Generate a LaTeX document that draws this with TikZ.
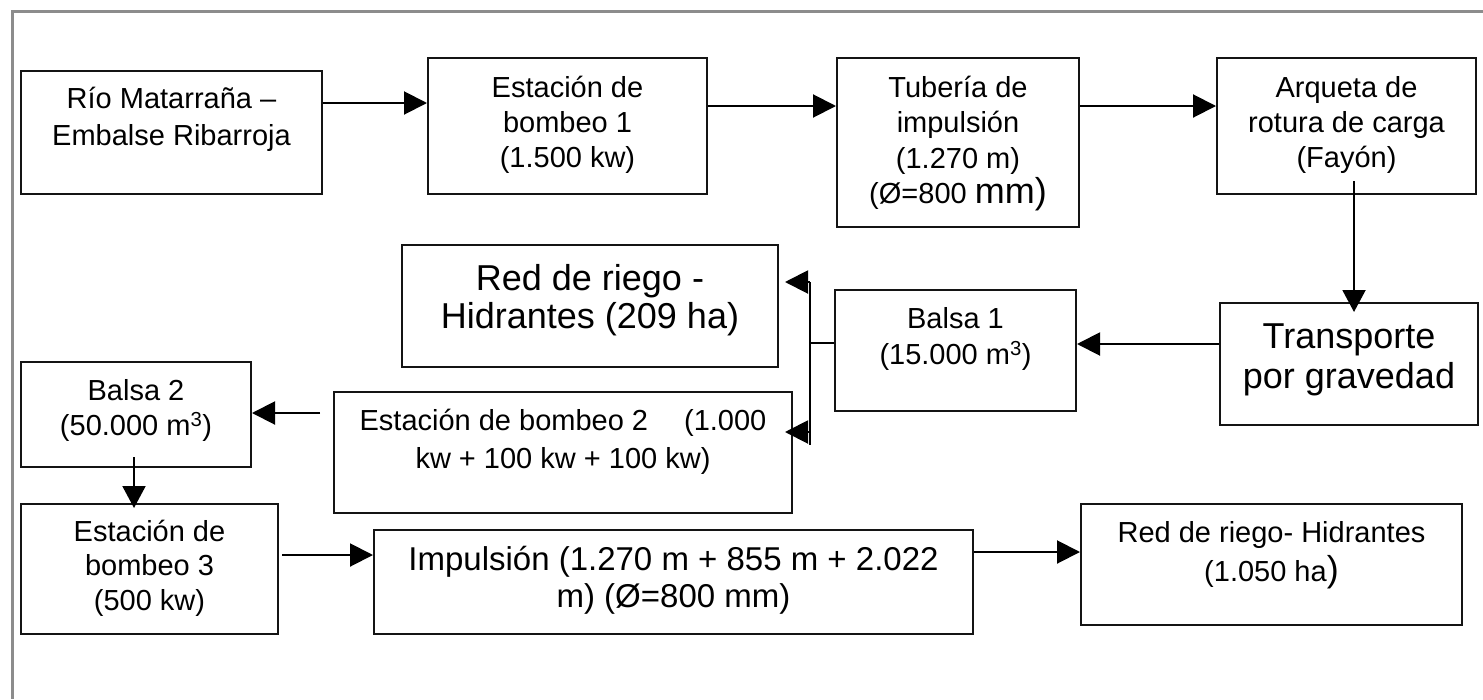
\documentclass[tikz,border=0pt]{standalone}
\usepackage{fontspec}
\setmainfont{Liberation Sans}
\usetikzlibrary{arrows.meta,calc}
\newcommand\fsnorm[1]{\fontsize{29}{#1}\selectfont}
\newcommand\fsbig[1]{\fontsize{36}{#1}\selectfont}
\newcommand\fsimp[1]{\fontsize{33}{#1}\selectfont}
\newcommand\tstrut{\rule{0pt}{34pt}}
\newcommand\bigpart[1]{{\fontsize{36}{36}\selectfont #1}}
\begin{document}
\begin{tikzpicture}[x=1pt,y=-1pt,
  box/.style={draw=black!92,line width=2pt,inner sep=0pt,fill=none},
  txt/.style={anchor=north,inner sep=0pt,align=center,text=black},
  arr/.style={line width=2pt,draw=black,-{Triangle[length=23pt,width=23pt]}},
  varr/.style={line width=2pt,draw=black,-{Triangle[length=22pt,width=23pt]}},
  plain/.style={line width=2pt,draw=black},
  frame/.style={line width=3pt,draw={rgb,255:red,140;green,140;blue,140}}]
\useasboundingbox (0,0) rectangle (1483,699);
\fill[white] (0,0) rectangle (1483,699);
\draw[frame] (1483,11) -- (12,11) -- (12,699);

% boxes
\node[box,minimum width=301pt,minimum height=123pt] (rio) at (171.5,132.5) {};
\node[box,minimum width=279pt,minimum height=136pt] (bomb1) at (567.5,126) {};
\node[box,minimum width=242pt,minimum height=169pt] (tub) at (958,142.5) {};
\node[box,minimum width=259pt,minimum height=136pt] (arq) at (1346.5,126) {};
\node[box,minimum width=258pt,minimum height=122pt] (transp) at (1349,364) {};
\node[box,minimum width=241pt,minimum height=121pt] (balsa1) at (955.5,350.5) {};
\node[box,minimum width=376pt,minimum height=122pt] (red209) at (590,306) {};
\node[box,minimum width=458pt,minimum height=121pt] (bomb2) at (563,452.5) {};
\node[box,minimum width=230pt,minimum height=105pt] (balsa2) at (136,414.5) {};
\node[box,minimum width=257pt,minimum height=130pt] (bomb3) at (149.5,569) {};
\node[box,minimum width=599pt,minimum height=104pt] (imp) at (673.5,582) {};
\node[box,minimum width=381pt,minimum height=121pt] (red1050) at (1271.5,564.5) {};

% texts
\node[txt,font=\fsnorm{37}] (rio-t) at (171.5,74) {\tstrut Río Matarraña –\\Embalse Ribarroja};
\node[txt,font=\fsnorm{35}] (bomb1-t) at (567.5,63) {\tstrut Estación de\\bombeo 1\\(1.500 kw)};
\node[txt,font=\fsnorm{35.5}] (tub-t) at (958,63) {\tstrut Tubería de\\impulsión\\(1.270 m)\\(Ø=800 \bigpart{mm)}};
\node[txt,font=\fsnorm{35}] (arq-t) at (1346.5,63) {\tstrut Arqueta de\\rotura de carga\\(Fayón)};
\node[txt,font=\fsbig{38}] (red209-t) at (590,256) {\tstrut Red de riego -\\Hidrantes (209 ha)};
\node[txt,font=\fsnorm{36}] (balsa1-t) at (955.5,294) {\tstrut Balsa 1\\(15.000 m\textsuperscript{3})};
\node[txt,font=\fsbig{40}] (transp-t) at (1349,314) {\tstrut Transporte\\por gravedad};
\node[txt,font=\fsnorm{35}] (balsa2-t) at (136,366) {\tstrut Balsa 2\\(50.000 m\textsuperscript{3})};
\node[txt,font=\fsnorm{38}] (bomb2-t) at (563,396) {\tstrut Estación de bombeo 2\hspace{36pt}(1.000\\kw + 100 kw + 100 kw)};
\node[txt,font=\fsnorm{34.5}] (bomb3-t) at (149.5,507) {\tstrut Estación de\\bombeo 3\\(500 kw)};
\node[txt,font=\fsimp{37}] (imp-t) at (673.5,536) {\tstrut Impulsión (1.270 m + 855 m + 2.022\\m) (Ø=800 mm)};
\node[txt,font=\fsnorm{39}] (red1050-t) at (1271.5,508) {\tstrut Red de riego- Hidrantes\\(1.050 ha\bigpart{)}};

% connectors
\draw[arr] (rio.east |- 0,103) -- (bomb1.west |- 0,103);
\draw[arr] (bomb1.east |- 0,106) -- (tub.west |- 0,106);
\draw[arr] (tub.east |- 0,106) -- (arq.west |- 0,106);
\draw[varr] ($(arq.south -| 1354,0)+(0,-14)$) -- ($(transp.north -| 1354,0)+(0,10)$);
\draw[arr] (transp.west |- 0,344) -- (balsa1.east |- 0,344);

\coordinate (bustop) at (810,282);
\coordinate (busbot) at (810,445);
\coordinate (busmid) at (810,343);
\coordinate (buslow) at (810,432);
\draw[plain] (bustop) -- (busbot);
\draw[plain] (busmid) -- (balsa1.west |- busmid);
\draw[arr] (bustop) -- ($(red209.east |- bustop)+(6,0)$);
\draw[arr] (buslow) -- ($(bomb2.east |- buslow)+(-8,0)$);

\draw[arr] ($(bomb2.west |- 0,413)+(-13,0)$) -- (balsa2.east |- 0,413);
\draw[varr] ($(balsa2.south -| 134,0)+(0,-11)$) -- ($(bomb3.north -| 134,0)+(0,5)$);
\draw[arr] ($(bomb3.east |- 0,555)+(3,0)$) -- (imp.west |- 0,555);
\draw[arr] (imp.east |- 0,552) -- (red1050.west |- 0,552);
\end{tikzpicture}
\end{document}
